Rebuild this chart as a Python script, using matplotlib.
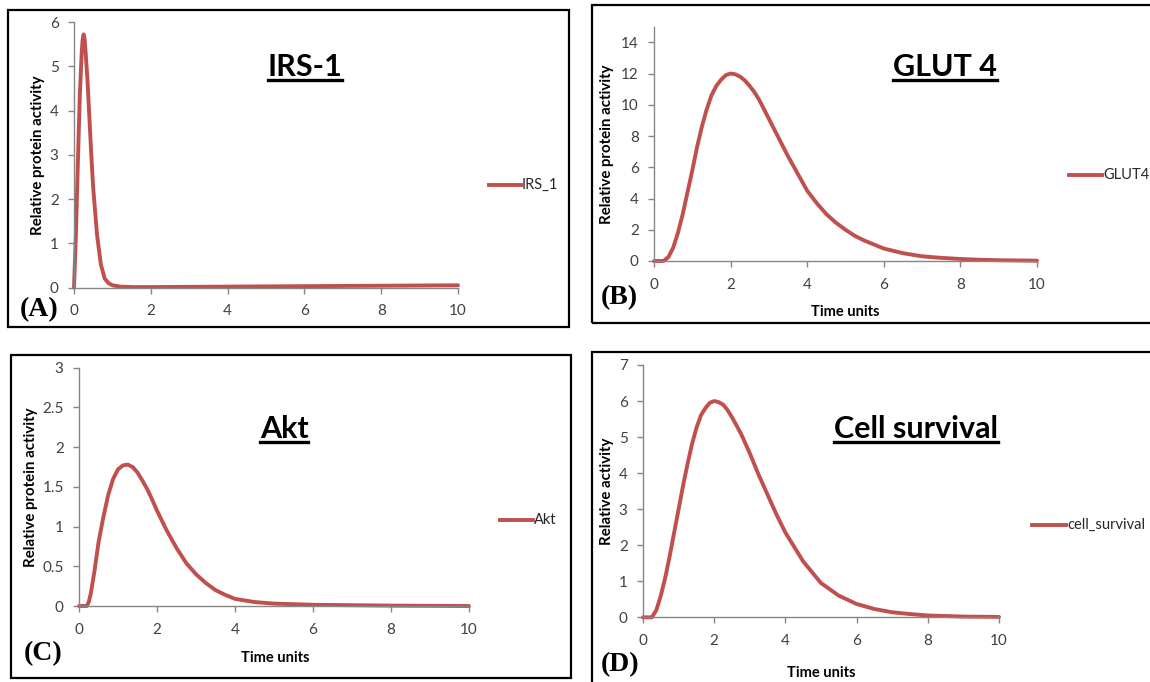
import matplotlib.pyplot as plt
from matplotlib.patches import Rectangle
from matplotlib.lines import Line2D

W, H = 1150, 682
RED = "#C0504D"
GRAY = "#868686"

# ---- data ----
t_irs = [0, 0.05, 0.1, 0.15, 0.2, 0.225, 0.25, 0.275, 0.3, 0.35, 0.4, 0.45, 0.5, 0.6, 0.7, 0.8,
         0.9, 1.0, 1.2, 1.5, 2, 4, 6, 8, 10]
irs_1 = [0, 1.2, 2.8, 4.3, 5.3, 5.6, 5.72, 5.62, 5.35, 4.7, 3.85, 3.0, 2.25, 1.19, 0.52, 0.2,
         0.1, 0.05, 0.02, 0.01, 0.01, 0.02, 0.03, 0.04, 0.05]

t_glut = [0, 0.25, 0.375, 0.5, 0.625, 0.75, 0.875, 1.0, 1.125, 1.25, 1.375, 1.5, 1.625, 1.75,
          1.875, 2.0, 2.125, 2.25, 2.375, 2.5, 2.625, 2.75, 2.875, 3.0, 3.25, 3.5, 3.75, 4.0,
          4.25, 4.5, 4.75, 5.0, 5.25, 5.5, 6.0, 6.5, 7.0, 7.5, 8.0, 8.5, 9.0, 10]
glut4 = [0, 0, 0.25, 0.85, 1.8, 3.0, 4.4, 5.8, 7.3, 8.6, 9.7, 10.6, 11.2, 11.6,
         11.9, 12.0, 11.95, 11.8, 11.55, 11.2, 10.8, 10.3, 9.7, 9.1, 7.9, 6.7, 5.6, 4.5,
         3.7, 3.0, 2.45, 2.0, 1.6, 1.3, 0.8, 0.5, 0.3, 0.2, 0.13, 0.08, 0.05, 0.02]

t_akt = [0, 0.2, 0.25, 0.3, 0.35, 0.4, 0.5, 0.625, 0.75, 0.875, 1.0, 1.125, 1.25, 1.375, 1.5,
         1.625, 1.75, 1.875, 2.0, 2.25, 2.5, 2.75, 3.0, 3.25, 3.5, 3.75, 4.0, 4.5, 5.0, 6.0,
         7.0, 8.0, 10]
akt = [0, 0, 0.05, 0.15, 0.3, 0.45, 0.8, 1.12, 1.4, 1.6, 1.72, 1.77, 1.78, 1.75, 1.68,
       1.58, 1.47, 1.34, 1.2, 0.95, 0.73, 0.54, 0.4, 0.29, 0.2, 0.14, 0.09, 0.05, 0.03, 0.015,
       0.01, 0.005, 0]

t_cell = [0, 0.25, 0.375, 0.5, 0.625, 0.75, 0.875, 1.0, 1.125, 1.25, 1.375, 1.5, 1.625, 1.75,
          1.875, 2.0, 2.125, 2.25, 2.375, 2.5, 2.75, 3.0, 3.25, 3.5, 3.75, 4.0, 4.5, 5.0, 5.5,
          6.0, 6.5, 7.0, 7.5, 8.0, 9.0, 10]
cell_survival = [0, 0, 0.2, 0.6, 1.1, 1.7, 2.35, 3.0, 3.65, 4.25, 4.8, 5.25, 5.6, 5.8,
                 5.95, 6.0, 5.97, 5.9, 5.75, 5.55, 5.1, 4.55, 3.95, 3.4, 2.85, 2.35, 1.55, 0.95, 0.6,
                 0.37, 0.23, 0.14, 0.09, 0.05, 0.02, 0.01]

plt.rcParams["font.family"] = ["Lato", "DejaVu Sans"]

fig = plt.figure(figsize=(W / 100, H / 100), dpi=100)


def fx(x):
    return x / W


def fy(y):
    return 1 - y / H


def frame(x0, y0, x1, y1):
    fig.patches.append(Rectangle((fx(x0), fy(y1)), fx(x1 - x0), (y1 - y0) / H,
                                 transform=fig.transFigure, fill=False,
                                 edgecolor="black", linewidth=1.6, zorder=0))


def make_panel(box, ylim, yticks, x, y, name, title, tpos, letter, lpos, ylabel,
               yl_pos, xl_pos, leg):
    x0, x1, yb, yt = box
    ax = fig.add_axes([fx(x0), fy(yb), fx(x1 - x0), (yb - yt) / H])
    ax.plot(x, y, color=RED, lw=2.8, solid_capstyle="round", solid_joinstyle="round",
            clip_on=False)
    ax.set_xlim(0, 10)
    ax.set_ylim(*ylim)
    ax.set_xticks([0, 2, 4, 6, 8, 10])
    ax.set_yticks(yticks)
    ax.set_yticklabels([("%g" % v) for v in yticks])
    for s in ["top", "right"]:
        ax.spines[s].set_visible(False)
    for s in ["left", "bottom"]:
        ax.spines[s].set_color(GRAY)
        ax.spines[s].set_linewidth(1.0)
    ax.tick_params(axis="both", colors=GRAY, length=4, width=1.0,
                   labelcolor="#404040", labelsize=11)
    ax.tick_params(axis="x", pad=8)
    ax.tick_params(axis="y", pad=7)
    ax.patch.set_alpha(0)

    # title, underlined
    tt = fig.text(fx(tpos[0]), fy(tpos[1]), title, ha="center", va="baseline",
                  fontsize=22, fontweight="bold")
    fig.canvas.draw()
    bb = tt.get_window_extent()
    uy = fy(tpos[1] + 4)
    fig.add_artist(Line2D([bb.x0 / W, bb.x1 / W], [uy, uy], color="black", lw=2.4,
                          transform=fig.transFigure))

    fig.text(fx(lpos[0]), fy(lpos[1]), letter, ha="left", va="center",
             fontsize=20, fontweight="bold", family="Liberation Serif")
    fig.text(fx(yl_pos[0]), fy(yl_pos[1]), ylabel, rotation=90, ha="center",
             va="center", fontsize=10.8, fontweight="bold")
    if xl_pos is not None:
        fig.text(fx(xl_pos[0]), fy(xl_pos[1]), "Time units", ha="center",
                 va="center", fontsize=10.5, fontweight="bold")
    lx0, lx1, ly = leg
    fig.add_artist(Line2D([fx(lx0), fx(lx1)], [fy(ly), fy(ly)], color=RED, lw=2.8,
                          transform=fig.transFigure))
    fig.text(fx(lx1 + 1), fy(ly), name, ha="left", va="center", fontsize=10.5,
             color="#262626")
    return ax


# panel frames
frame(8, 10, 569, 327)
frame(592, 5, 1160, 323)
frame(11, 355, 571, 678)
frame(592, 352, 1160, 690)

make_panel((74, 458, 287.5, 22), (0, 6), [0, 1, 2, 3, 4, 5, 6], t_irs, irs_1,
           "IRS_1", "IRS-1", (305, 76), "(A)", (20, 310),
           "Relative protein activity", (38, 155), None, (489, 521, 185))

make_panel((654, 1037, 261, 26.7), (0, 15), [0, 2, 4, 6, 8, 10, 12, 14], t_glut, glut4,
           "GLUT4", "GLUT 4", (945, 76), "(B)", (601, 298),
           "Relative protein activity", (607, 144), (845, 312), (1069, 1102, 175))

make_panel((79, 469, 606, 367.7), (0, 3), [0, 0.5, 1, 1.5, 2, 2.5, 3], t_akt, akt,
           "Akt", "Akt", (284, 438), "(C)", (24, 654),
           "Relative protein activity", (31, 487), (275, 658), (500, 533, 520))

make_panel((643, 999, 617.3, 365), (0, 7), [0, 1, 2, 3, 4, 5, 6, 7], t_cell, cell_survival,
           "cell_survival", "Cell survival", (916, 438), "(D)", (601, 665),
           "Relative activity", (607, 491), (821, 673), (1032, 1066, 525))

fig.savefig("out.png", dpi=100)
